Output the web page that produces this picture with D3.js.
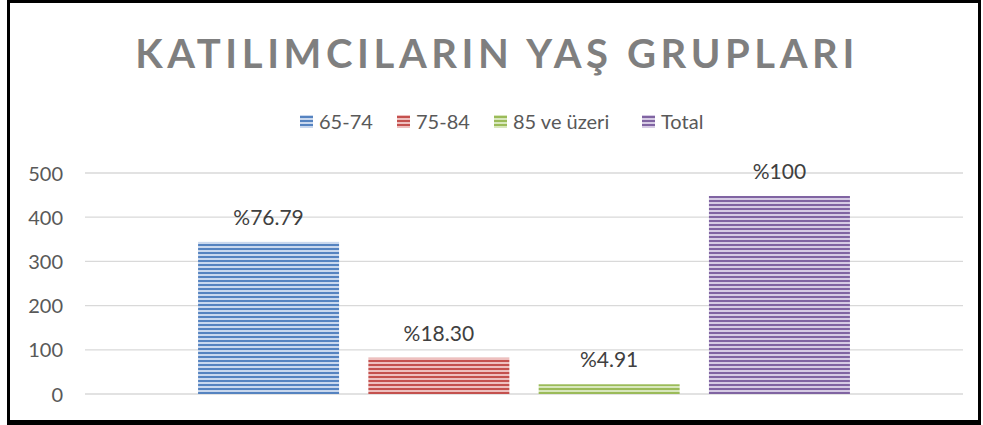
<!DOCTYPE html>
<html>
<head>
<meta charset="utf-8">
<script src="https://cdn.jsdelivr.net/npm/d3@7"></script>
<style>
body{margin:0;background:#fff;}
</style>
</head>
<body>
<div class="box"></div>
<script>
const series=['65-74','75-84','85 ve üzeri','Total'];
const values=[344,82,22,448];
const labels=['%76.79','%18.30','%4.91','%100'];
const darkCols=['#5583c0','#c4514e','#9bbb59','#8064a2'];
const lightCols=['#c9d8ee','#eec0bf','#d8e7bd','#d6cbe4'];
const yTicks=[0,100,200,300,400,500];

const W=983,H=425;
const svg=d3.select('.box').append('svg').attr('width',W).attr('height',H).style('display','block');
const font="Lato, 'Noto Sans', sans-serif";

// stripe patterns
const defs=svg.append('defs');
series.forEach((s,i)=>{
  const p=defs.append('pattern').attr('id','pat'+i).attr('patternUnits','userSpaceOnUse')
    .attr('width',8).attr('height',4);
  p.append('rect').attr('width',8).attr('height',4).attr('fill',lightCols[i]);
  p.append('rect').attr('y',0).attr('width',8).attr('height',2).attr('fill',darkCols[i]);
});

// border
svg.append('rect').attr('x',8.5).attr('y',1.5).attr('width',971).attr('height',420.5)
  .attr('fill','none').attr('stroke','#000').attr('stroke-width',3);
svg.append('line').attr('x1',7).attr('x2',981).attr('y1',422.5).attr('y2',422.5).attr('stroke','#000').attr('stroke-width',5);

const margin={left:85,right:20,top:173,bottom:31};
const x=d3.scaleBand().domain(series).range([margin.left,W-margin.right]).paddingInner(0.172).paddingOuter(0.664);
const y=d3.scaleLinear().domain([0,500]).range([394,173]);

// title
svg.append('text').attr('x',497).attr('y',68).attr('text-anchor','middle')
  .style('font-family',font).style('font-weight','bold').style('font-size','40px')
  .style('letter-spacing','4.6px').attr('fill','#7f7f7f').text('KATILIMCILARIN YAŞ GRUPLARI');

// legend
const leg=svg.append('g').attr('transform','translate(300,0)');
const legX=[0,97,194,342];
series.forEach((s,i)=>{
  const g=leg.append('g').attr('transform',`translate(${legX[i]},0)`);
  g.append('rect').attr('x',0).attr('y',115).attr('width',13).attr('height',13).attr('fill','url(#pat'+i+')');
  g.append('text').attr('x',19).attr('y',129).style('font-family',font).style('font-size','20px')
    .attr('fill','#595959').text(s);
});

// grid
const gGrid=svg.append('g');
gGrid.selectAll('line').data(yTicks).enter().append('line')
  .attr('x1',margin.left).attr('x2',W-margin.right)
  .attr('y1',d=>y(d)).attr('y2',d=>y(d)).attr('stroke','#d9d9d9').attr('stroke-width',1.3);

// y axis
const axeY=d3.axisLeft(y).tickValues(yTicks).tickSize(0).tickPadding(0);
const gY=svg.append('g').attr('transform','translate(63,0)').call(axeY);
gY.select('.domain').remove();
gY.selectAll('text').style('font-family',font).style('font-size','20px').attr('fill','#595959').attr('dy','0.35em');

// bars
svg.selectAll('rect.bar').data(values).enter().append('rect').attr('class','bar')
  .attr('x',(d,i)=>x(series[i])).attr('width',x.bandwidth())
  .attr('y',d=>y(d)).attr('height',d=>y(0)-y(d))
  .attr('fill',(d,i)=>'url(#pat'+i+')');

// data labels
svg.selectAll('text.lab').data(values).enter().append('text').attr('class','lab')
  .attr('x',(d,i)=>x(series[i])+x.bandwidth()/2).attr('y',d=>y(d)-17)
  .attr('text-anchor','middle').style('font-family',font).style('font-size','21px')
  .attr('fill','#404040').text((d,i)=>labels[i]);
</script>
</body>
</html>
